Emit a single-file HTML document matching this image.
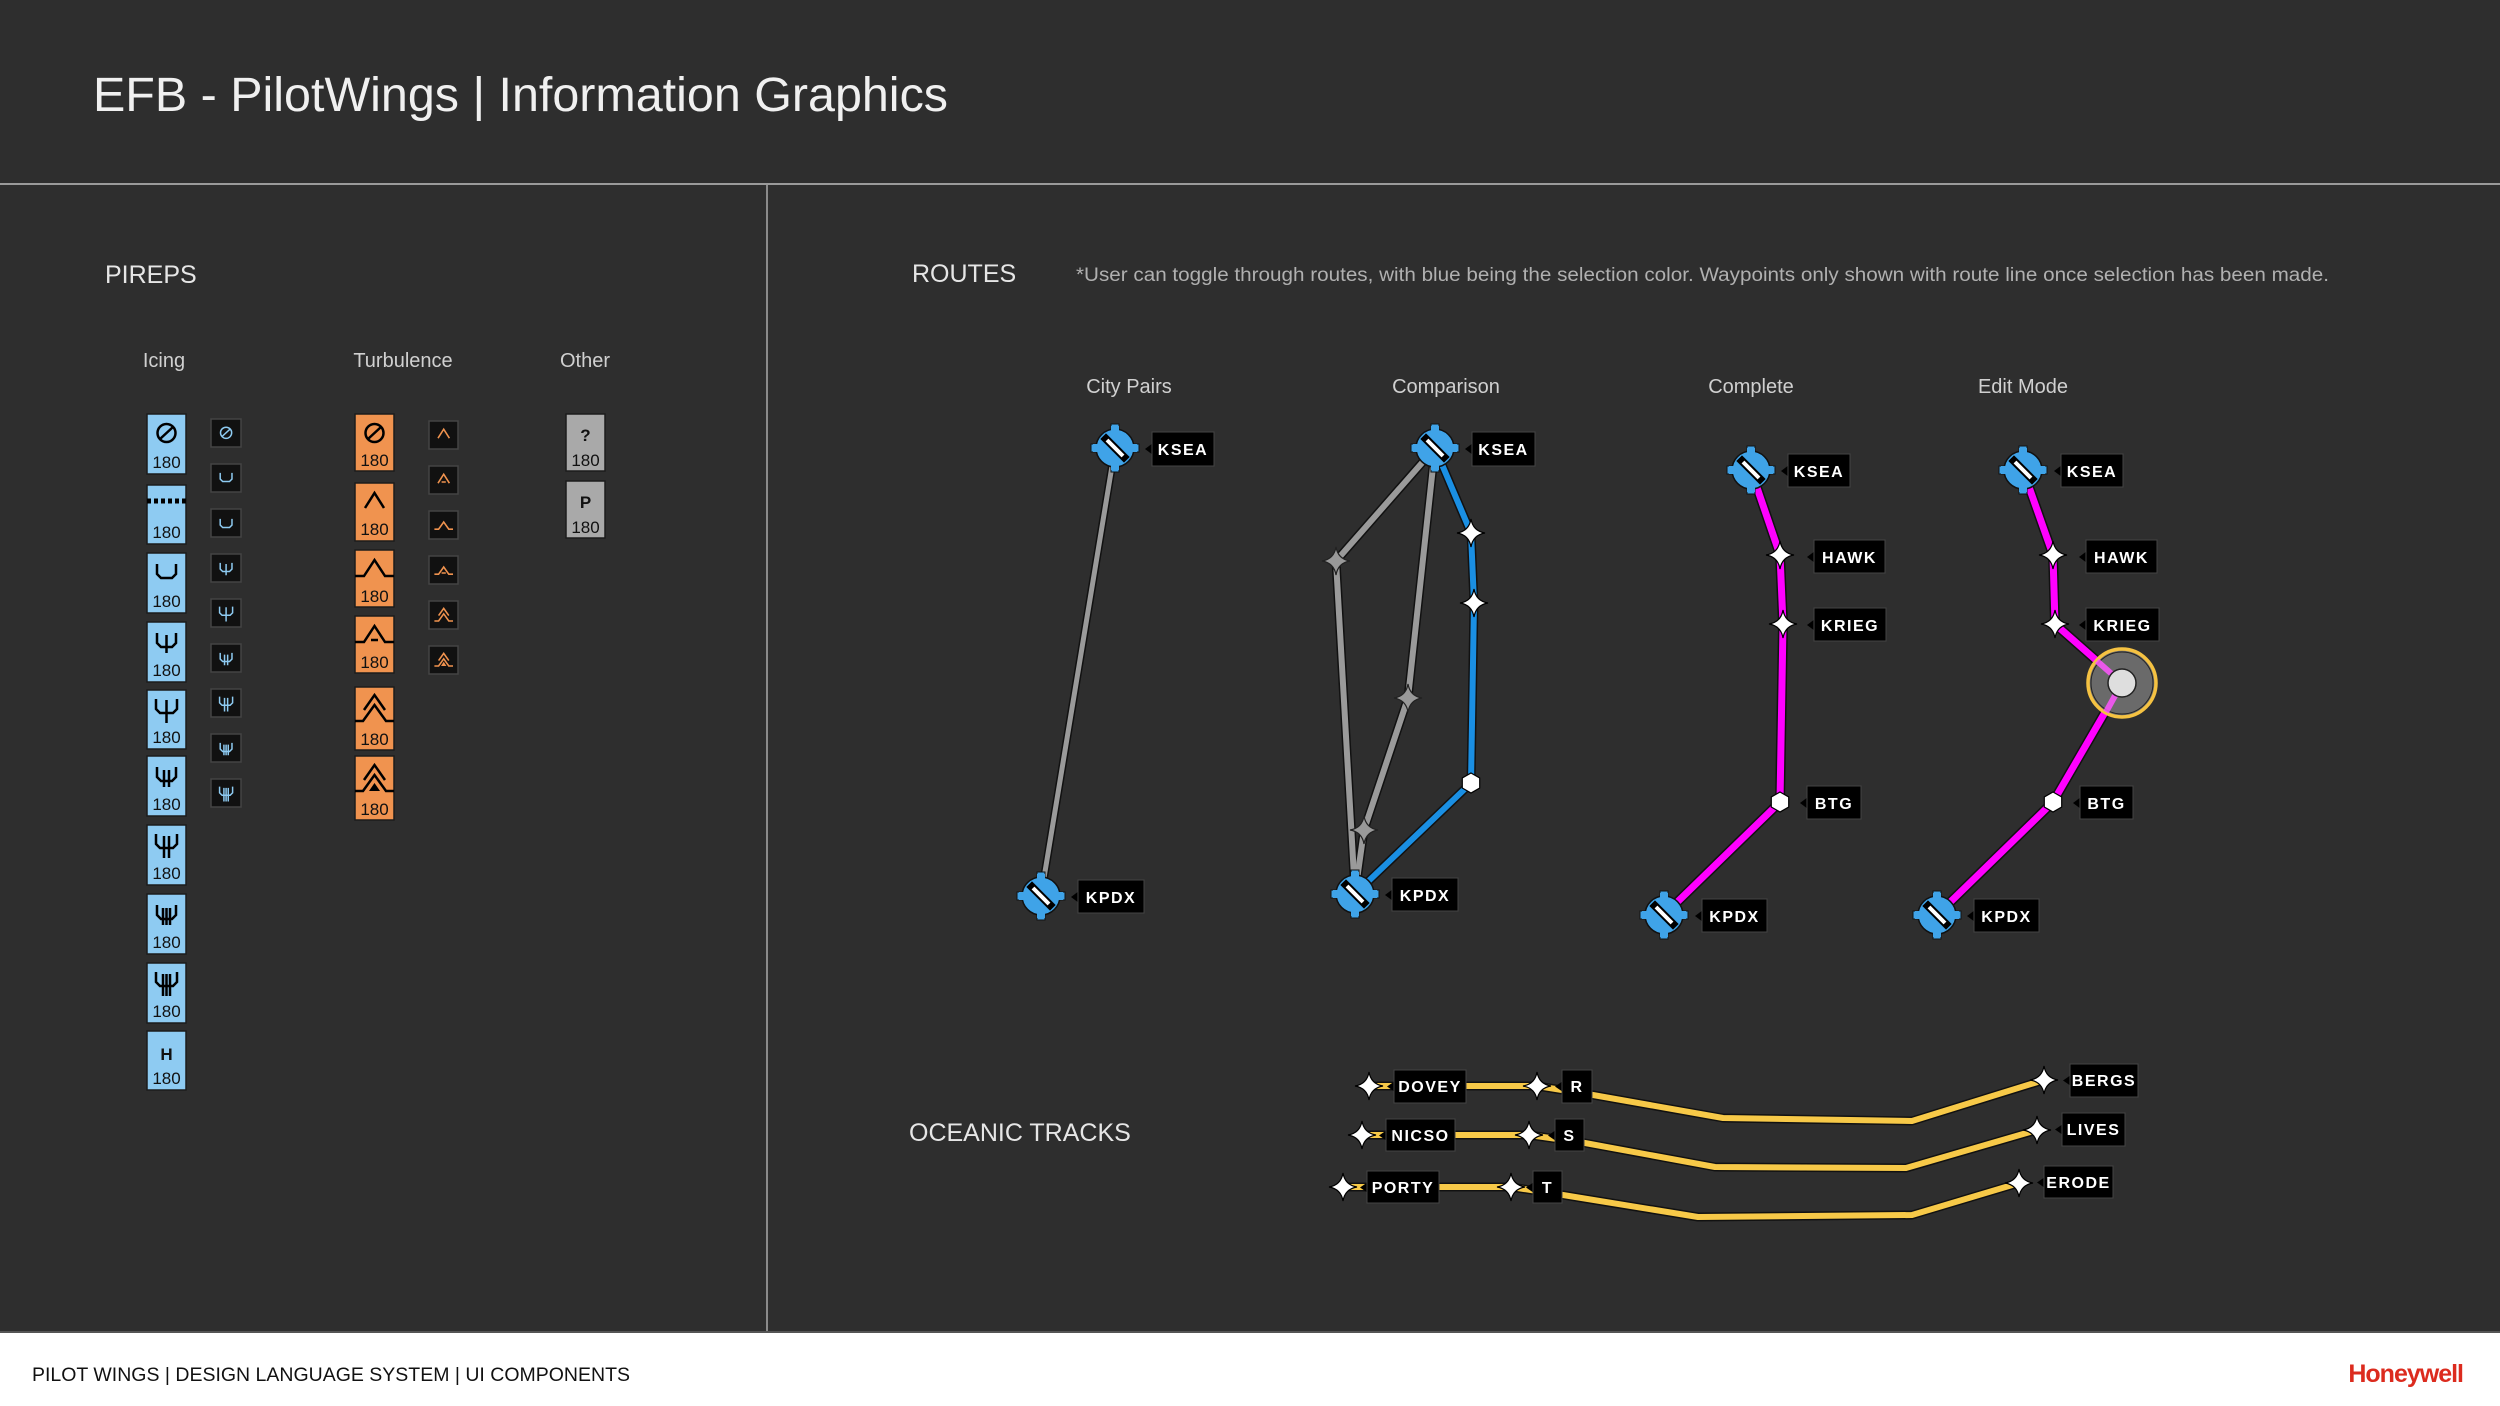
<!DOCTYPE html>
<html><head><meta charset="utf-8"><style>
html,body{margin:0;padding:0;background:#2e2e2e;}
svg{display:block;}
text{font-family:"Liberation Sans",sans-serif;}
.lb{font-size:16px;fill:#fff;letter-spacing:1.5px;text-anchor:middle;font-weight:bold;}
.sm{font-size:20px;fill:#d0d0d0;text-anchor:middle;}
.hd{font-size:25px;fill:#e6e6e6;}
.n{font-size:17px;fill:#111;text-anchor:middle;}
</style></head><body>
<svg width="2500" height="1406" viewBox="0 0 2500 1406" xmlns="http://www.w3.org/2000/svg">
<defs>
<g id="apt">
 <rect x="-4" y="-24" width="8" height="48" fill="#3fa3e8" stroke="#111" stroke-width="1"/>
 <rect x="-24" y="-4" width="48" height="8" fill="#3fa3e8" stroke="#111" stroke-width="1"/>
 <circle r="19" fill="#3fa3e8" stroke="#111" stroke-width="1.5"/>
 <rect x="-4" y="-22" width="8" height="44" fill="#3fa3e8"/>
 <rect x="-22" y="-4" width="44" height="8" fill="#3fa3e8"/>
 <line x1="-9" y1="-9" x2="9" y2="9" stroke="#000" stroke-width="8" stroke-linecap="square"/>
 <line x1="-8" y1="-8" x2="8" y2="8" stroke="#fff" stroke-width="4"/>
</g>
<path id="star" d="M0,-14 Q2,-2 14,0 Q2,2 0,14 Q-2,2 -14,0 Q-2,-2 0,-14Z" fill="#fff" stroke="#000" stroke-width="1.2"/>
<path id="gstar" d="M0,-14 Q2,-2 14,0 Q2,2 0,14 Q-2,2 -14,0 Q-2,-2 0,-14Z" fill="#999" stroke="#222" stroke-width="1.2"/>
<polygon id="hex" points="0,-10 8.7,-5 8.7,5 0,10 -8.7,5 -8.7,-5" fill="#fff" stroke="#000" stroke-width="1.2"/>
<g id="i_noc" fill="none"><circle cx="19.5" cy="19" r="9"/><line x1="13" y1="25" x2="26" y2="13"/></g>
<path id="i_cup" fill="none" d="M10,11 V21 L14,25 H25 L29,21 V11"/>
<path id="i_s1" fill="none" d="M10,11 V21 L14,25 H25 L29,21 V11 M19.5,13 V31"/>
<path id="i_s1l" fill="none" d="M9,9 V19 L13,23 H26 L30,19 V9 M19.5,10 V33"/>
<path id="i_s2" fill="none" d="M10,11 V21 L14,25 H25 L29,21 V11 M17,14 V31 M22,14 V31"/>
<path id="i_s2l" fill="none" d="M9,9 V19 L13,23 H26 L30,19 V9 M17,11 V33 M22,11 V33"/>
<path id="i_s3" fill="none" d="M10,11 V21 L14,25 H25 L29,21 V11 M16,14 V31 M19.5,14 V31 M23,14 V31"/>
<path id="i_s3l" fill="none" d="M9,9 V19 L13,23 H26 L30,19 V9 M16,11 V33 M19.5,11 V33 M23,11 V33"/>
<path id="i_t1" fill="none" d="M10,27 L19.5,12 L29,27"/>
<path id="i_t2" fill="none" d="M0,25 H9 L19.5,9 L30,25 H39"/>
<path id="i_t3" fill="none" d="M0,25 H9 L19.5,9 L30,25 H39 M16,23 H23"/>
<path id="i_t4" fill="none" d="M0,33 H8 L19.5,17 L31,33 H39 M9,22 L19.5,7 L30,22"/>
<g id="i_t5"><path fill="none" d="M0,33 H8 L19.5,17 L31,33 H39 M9,22 L19.5,7 L30,22"/><path d="M14,33 L19.5,25 L25,33Z" stroke="none" fill="#000"/></g>
<path id="i_s_t2" fill="none" d="M10,27 L19.5,12 L29,27 M16,25 H23"/>
<path id="i_s_t3" fill="none" d="M4,27 H11 L19.5,15 L28,27 H35"/>
<path id="i_s_t4" fill="none" d="M4,27 H11 L19.5,15 L28,27 H35 M16,25 H23"/>
<path id="i_s_t5" fill="none" d="M4,30 H11 L19.5,18 L28,30 H35 M11,21 L19.5,9 L28,21"/>
<g id="i_s_t6"><path fill="none" d="M4,30 H11 L19.5,18 L28,30 H35 M11,21 L19.5,9 L28,21"/><path d="M15,30 L19.5,23 L24,30Z" stroke="none" fill="#f0934f"/></g>
</defs>

<rect width="2500" height="1406" fill="#2e2e2e"/>
<text x="93" y="111" font-size="48" fill="#f0f0f0" textLength="855" lengthAdjust="spacingAndGlyphs">EFB - PilotWings | Information Graphics</text>
<rect x="0" y="183" width="2500" height="2" fill="#9a9a9a"/>
<rect x="766" y="185" width="2" height="1148" fill="#8a8a8a"/>

<text x="105" y="283" class="hd">PIREPS</text>
<text x="164" y="367" class="sm">Icing</text>
<text x="403" y="367" class="sm">Turbulence</text>
<text x="585" y="367" class="sm">Other</text>

<g stroke="#000" stroke-width="2.5">
<g transform="translate(147,414)"><rect width="39" height="60" fill="#8ecbf2" stroke="#1c1c1c" stroke-width="1.5"/><use href="#i_noc"/><text x="19.5" y="54" class="n" stroke="none">180</text></g>
<g transform="translate(147,485)"><rect width="39" height="59" fill="#8ecbf2" stroke="#1c1c1c" stroke-width="1.5"/><line x1="0" y1="16" x2="39" y2="16" stroke-width="5" stroke-dasharray="4 3"/><text x="19.5" y="53" class="n" stroke="none">180</text></g>
<g transform="translate(147,553)"><rect width="39" height="60" fill="#8ecbf2" stroke="#1c1c1c" stroke-width="1.5"/><use href="#i_cup"/><text x="19.5" y="54" class="n" stroke="none">180</text></g>
<g transform="translate(147,622)"><rect width="39" height="60" fill="#8ecbf2" stroke="#1c1c1c" stroke-width="1.5"/><use href="#i_s1"/><text x="19.5" y="54" class="n" stroke="none">180</text></g>
<g transform="translate(147,690)"><rect width="39" height="59" fill="#8ecbf2" stroke="#1c1c1c" stroke-width="1.5"/><use href="#i_s1l"/><text x="19.5" y="53" class="n" stroke="none">180</text></g>
<g transform="translate(147,756)"><rect width="39" height="60" fill="#8ecbf2" stroke="#1c1c1c" stroke-width="1.5"/><use href="#i_s2"/><text x="19.5" y="54" class="n" stroke="none">180</text></g>
<g transform="translate(147,825)"><rect width="39" height="60" fill="#8ecbf2" stroke="#1c1c1c" stroke-width="1.5"/><use href="#i_s2l"/><text x="19.5" y="54" class="n" stroke="none">180</text></g>
<g transform="translate(147,894)"><rect width="39" height="60" fill="#8ecbf2" stroke="#1c1c1c" stroke-width="1.5"/><use href="#i_s3"/><text x="19.5" y="54" class="n" stroke="none">180</text></g>
<g transform="translate(147,963)"><rect width="39" height="60" fill="#8ecbf2" stroke="#1c1c1c" stroke-width="1.5"/><use href="#i_s3l"/><text x="19.5" y="54" class="n" stroke="none">180</text></g>
<g transform="translate(147,1031)"><rect width="39" height="59" fill="#8ecbf2" stroke="#1c1c1c" stroke-width="1.5"/><text x="19.5" y="29" class="n" stroke="none" font-size="22" font-weight="bold">H</text><text x="19.5" y="53" class="n" stroke="none">180</text></g>
</g>

<g stroke="#8ecbf2" stroke-width="2.4">
<g transform="translate(211,419)"><rect width="30" height="28" fill="#111" stroke="#444" stroke-width="1.5"/><use href="#i_noc" transform="translate(3,2) scale(0.62)"/></g>
<g transform="translate(211,464)"><rect width="30" height="28" fill="#111" stroke="#444" stroke-width="1.5"/><use href="#i_cup" transform="translate(3,2) scale(0.62)"/></g>
<g transform="translate(211,509)"><rect width="30" height="28" fill="#111" stroke="#444" stroke-width="1.5"/><use href="#i_cup" transform="translate(3,3) scale(0.62)"/></g>
<g transform="translate(211,554)"><rect width="30" height="28" fill="#111" stroke="#444" stroke-width="1.5"/><use href="#i_s1" transform="translate(3,2) scale(0.62)"/></g>
<g transform="translate(211,599)"><rect width="30" height="28" fill="#111" stroke="#444" stroke-width="1.5"/><use href="#i_s1l" transform="translate(3,2) scale(0.62)"/></g>
<g transform="translate(211,644)"><rect width="30" height="28" fill="#111" stroke="#444" stroke-width="1.5"/><use href="#i_s2" transform="translate(3,2) scale(0.62)"/></g>
<g transform="translate(211,689)"><rect width="30" height="28" fill="#111" stroke="#444" stroke-width="1.5"/><use href="#i_s2l" transform="translate(3,2) scale(0.62)"/></g>
<g transform="translate(211,734)"><rect width="30" height="28" fill="#111" stroke="#444" stroke-width="1.5"/><use href="#i_s3" transform="translate(3,2) scale(0.62)"/></g>
<g transform="translate(211,779)"><rect width="30" height="28" fill="#111" stroke="#444" stroke-width="1.5"/><use href="#i_s3l" transform="translate(3,2) scale(0.62)"/></g>
</g>

<g stroke="#000" stroke-width="2.5">
<g transform="translate(355,414)"><rect width="39" height="57" fill="#f0934f" stroke="#1c1c1c" stroke-width="1.5"/><use href="#i_noc"/><text x="19.5" y="52" class="n" stroke="none">180</text></g>
<g transform="translate(355,483)"><rect width="39" height="58" fill="#f0934f" stroke="#1c1c1c" stroke-width="1.5"/><use href="#i_t1" transform="translate(0,-2)"/><text x="19.5" y="52" class="n" stroke="none">180</text></g>
<g transform="translate(355,550)"><rect width="39" height="57" fill="#f0934f" stroke="#1c1c1c" stroke-width="1.5"/><use href="#i_t2" transform="translate(0,1)"/><text x="19.5" y="52" class="n" stroke="none">180</text></g>
<g transform="translate(355,616)"><rect width="39" height="57" fill="#f0934f" stroke="#1c1c1c" stroke-width="1.5"/><use href="#i_t3" transform="translate(0,1)"/><text x="19.5" y="52" class="n" stroke="none">180</text></g>
<g transform="translate(355,687)"><rect width="39" height="63" fill="#f0934f" stroke="#1c1c1c" stroke-width="1.5"/><use href="#i_t4" transform="translate(0,1)"/><text x="19.5" y="58" class="n" stroke="none">180</text></g>
<g transform="translate(355,756)"><rect width="39" height="64" fill="#f0934f" stroke="#1c1c1c" stroke-width="1.5"/><use href="#i_t5" transform="translate(0,2)"/><text x="19.5" y="59" class="n" stroke="none">180</text></g>
</g>
<g stroke="#f0934f" stroke-width="2.6">
<g transform="translate(429,421)"><rect width="29" height="28" fill="#111" stroke="#444" stroke-width="1.5"/><use href="#i_t1" transform="translate(3,1) scale(0.6)"/></g>
<g transform="translate(429,466)"><rect width="29" height="28" fill="#111" stroke="#444" stroke-width="1.5"/><use href="#i_s_t2" transform="translate(3,1) scale(0.6)"/></g>
<g transform="translate(429,511)"><rect width="29" height="28" fill="#111" stroke="#444" stroke-width="1.5"/><use href="#i_s_t3" transform="translate(3,2) scale(0.6)"/></g>
<g transform="translate(429,556)"><rect width="29" height="28" fill="#111" stroke="#444" stroke-width="1.5"/><use href="#i_s_t4" transform="translate(3,2) scale(0.6)"/></g>
<g transform="translate(429,601)"><rect width="29" height="28" fill="#111" stroke="#444" stroke-width="1.5"/><use href="#i_s_t5" transform="translate(3,2) scale(0.6)"/></g>
<g transform="translate(429,646)"><rect width="29" height="28" fill="#111" stroke="#444" stroke-width="1.5"/><use href="#i_s_t6" transform="translate(3,2) scale(0.6)"/></g>
</g>

<g transform="translate(566,414)"><rect width="39" height="57" fill="#a9a9a9" stroke="#1c1c1c" stroke-width="1.5"/><text x="19.5" y="27" class="n" font-size="22" font-weight="bold">?</text><text x="19.5" y="52" class="n">180</text></g>
<g transform="translate(566,481)"><rect width="39" height="57" fill="#a9a9a9" stroke="#1c1c1c" stroke-width="1.5"/><text x="19.5" y="27" class="n" font-size="22" font-weight="bold">P</text><text x="19.5" y="52" class="n">180</text></g>

<text x="912" y="282" class="hd">ROUTES</text>
<text x="1076" y="281" font-size="19" fill="#b0b0b0" textLength="1253" lengthAdjust="spacingAndGlyphs">*User can toggle through routes, with blue being the selection color. Waypoints only shown with route line once selection has been made.</text>
<text x="1129" y="393" class="sm">City Pairs</text>
<text x="1446" y="393" class="sm">Comparison</text>
<text x="1751" y="393" class="sm">Complete</text>
<text x="2023" y="393" class="sm">Edit Mode</text>

<g fill="none" stroke-linejoin="round">
<polyline points="1115,448 1041,896" stroke="#111" stroke-width="8"/>
<polyline points="1115,448 1041,896" stroke="#9a9a9a" stroke-width="5"/>
<polyline points="1435,448 1336,561 1355,894" stroke="#111" stroke-width="9"/>
<polyline points="1435,448 1408,698 1364,830 1355,894" stroke="#111" stroke-width="9"/>
<polyline points="1435,448 1336,561 1355,894" stroke="#9a9a9a" stroke-width="6"/>
<polyline points="1435,448 1408,698 1364,830 1355,894" stroke="#9a9a9a" stroke-width="6"/>
<polyline points="1435,448 1471,533 1474,603 1471,783 1355,894" stroke="#111" stroke-width="9"/>
<polyline points="1435,448 1471,533 1474,603 1471,783 1355,894" stroke="#1a8fe3" stroke-width="6"/>
<polyline points="1751,470 1780,555 1783,624 1780,802 1664,915" stroke="#111" stroke-width="10"/>
<polyline points="1751,470 1780,555 1783,624 1780,802 1664,915" stroke="#ff00ff" stroke-width="7"/>
<polyline points="2023,470 2053,555 2055,624 2122,683 2053,802 1937,915" stroke="#111" stroke-width="10"/>
<polyline points="2023,470 2053,555 2055,624 2122,683 2053,802 1937,915" stroke="#ff00ff" stroke-width="7"/>
</g>
<circle cx="2122" cy="683" r="34" fill="#6a6a6a" stroke="#f5c242" stroke-width="3.5"/>
<circle cx="2122" cy="683" r="31" fill="none" stroke="#222" stroke-width="1"/>
<polyline points="2097,661 2122,683 2106,712" fill="none" stroke="#ff55ff" stroke-width="6" opacity="0.85"/>
<circle cx="2122" cy="683" r="14" fill="#dedede" stroke="#222" stroke-width="1.5"/>

<use href="#gstar" x="1336" y="561"/>
<use href="#gstar" x="1408" y="698"/>
<use href="#gstar" x="1364" y="830"/>
<use href="#star" x="1471" y="533"/>
<use href="#star" x="1474" y="603"/>
<use href="#hex" x="1471" y="783"/>
<use href="#star" x="1780" y="555"/>
<use href="#star" x="1783" y="624"/>
<use href="#hex" x="1780" y="802"/>
<use href="#star" x="2053" y="555"/>
<use href="#star" x="2055" y="624"/>
<use href="#hex" x="2053" y="802"/>

<use href="#apt" x="1115" y="448"/>
<use href="#apt" x="1041" y="896"/>
<use href="#apt" x="1435" y="448"/>
<use href="#apt" x="1355" y="894"/>
<use href="#apt" x="1751" y="470"/>
<use href="#apt" x="1664" y="915"/>
<use href="#apt" x="2023" y="470"/>
<use href="#apt" x="1937" y="915"/>

<g>
<g transform="translate(1152,432)"><polygon points="1,11 -7,17 1,23" fill="#000"/><rect width="62" height="34" fill="#000" stroke="#444"/><text x="31" y="23" class="lb">KSEA</text></g>
<g transform="translate(1078,880)"><polygon points="1,11 -7,17 1,23" fill="#000"/><rect width="66" height="33" fill="#000" stroke="#444"/><text x="33" y="23" class="lb">KPDX</text></g>
<g transform="translate(1472,432)"><polygon points="1,11 -7,17 1,23" fill="#000"/><rect width="63" height="34" fill="#000" stroke="#444"/><text x="31.5" y="23" class="lb">KSEA</text></g>
<g transform="translate(1392,878)"><polygon points="1,11 -7,17 1,23" fill="#000"/><rect width="66" height="33" fill="#000" stroke="#444"/><text x="33" y="23" class="lb">KPDX</text></g>

<g transform="translate(1788,454)"><polygon points="1,11 -7,17 1,23" fill="#000"/><rect width="62" height="33" fill="#000" stroke="#444"/><text x="31" y="23" class="lb">KSEA</text></g>
<g transform="translate(1814,540)"><polygon points="1,11 -7,17 1,23" fill="#000"/><rect width="71" height="33" fill="#000" stroke="#444"/><text x="35.5" y="23" class="lb">HAWK</text></g>
<g transform="translate(1814,608)"><polygon points="1,11 -7,17 1,23" fill="#000"/><rect width="72" height="33" fill="#000" stroke="#444"/><text x="36" y="23" class="lb">KRIEG</text></g>
<g transform="translate(1807,786)"><polygon points="1,11 -7,17 1,23" fill="#000"/><rect width="54" height="33" fill="#000" stroke="#444"/><text x="27" y="23" class="lb">BTG</text></g>
<g transform="translate(1702,899)"><polygon points="1,11 -7,17 1,23" fill="#000"/><rect width="65" height="33" fill="#000" stroke="#444"/><text x="32.5" y="23" class="lb">KPDX</text></g>

<g transform="translate(2061,454)"><polygon points="1,11 -7,17 1,23" fill="#000"/><rect width="62" height="33" fill="#000" stroke="#444"/><text x="31" y="23" class="lb">KSEA</text></g>
<g transform="translate(2086,540)"><polygon points="1,11 -7,17 1,23" fill="#000"/><rect width="71" height="33" fill="#000" stroke="#444"/><text x="35.5" y="23" class="lb">HAWK</text></g>
<g transform="translate(2086,608)"><polygon points="1,11 -7,17 1,23" fill="#000"/><rect width="73" height="33" fill="#000" stroke="#444"/><text x="36.5" y="23" class="lb">KRIEG</text></g>
<g transform="translate(2080,786)"><polygon points="1,11 -7,17 1,23" fill="#000"/><rect width="53" height="33" fill="#000" stroke="#444"/><text x="26.5" y="23" class="lb">BTG</text></g>
<g transform="translate(1974,899)"><polygon points="1,11 -7,17 1,23" fill="#000"/><rect width="65" height="33" fill="#000" stroke="#444"/><text x="32.5" y="23" class="lb">KPDX</text></g>
</g>

<text x="909" y="1141" class="hd">OCEANIC TRACKS</text>
<g fill="none" stroke-linejoin="round">
<polyline points="1369,1086 1537,1086 1593,1095 1723,1118 1912,1121 2044,1080" stroke="#111" stroke-width="9"/>
<polyline points="1369,1086 1537,1086 1593,1095 1723,1118 1912,1121 2044,1080" stroke="#f7c948" stroke-width="6"/>
<polyline points="1362,1135 1529,1135 1585,1143 1715,1167 1906,1168 2037,1130" stroke="#111" stroke-width="9"/>
<polyline points="1362,1135 1529,1135 1585,1143 1715,1167 1906,1168 2037,1130" stroke="#f7c948" stroke-width="6"/>
<polyline points="1343,1187 1511,1187 1563,1195 1698,1217 1912,1215 2019,1183" stroke="#111" stroke-width="9"/>
<polyline points="1343,1187 1511,1187 1563,1195 1698,1217 1912,1215 2019,1183" stroke="#f7c948" stroke-width="6"/>
</g>
<g transform="translate(1394,1070)"><polygon points="1,11 -7,16.5 1,22" fill="#000"/><rect width="72" height="33" fill="#000" stroke="#444"/><text x="36" y="22" class="lb">DOVEY</text></g>
<g transform="translate(1562,1070)"><polygon points="1,11 -7,16.5 1,22" fill="#000"/><rect width="30" height="33" fill="#000" stroke="#444"/><text x="15" y="22" class="lb">R</text></g>
<g transform="translate(2070,1064)"><polygon points="1,11 -7,16.5 1,22" fill="#000"/><rect width="68" height="33" fill="#000" stroke="#444"/><text x="34" y="22" class="lb">BERGS</text></g>
<g transform="translate(1386,1119)"><polygon points="1,11 -7,16.5 1,22" fill="#000"/><rect width="69" height="32" fill="#000" stroke="#444"/><text x="34.5" y="22" class="lb">NICSO</text></g>
<g transform="translate(1555,1119)"><polygon points="1,11 -7,16.5 1,22" fill="#000"/><rect width="29" height="32" fill="#000" stroke="#444"/><text x="14.5" y="22" class="lb">S</text></g>
<g transform="translate(2062,1113)"><polygon points="1,11 -7,16.5 1,22" fill="#000"/><rect width="63" height="33" fill="#000" stroke="#444"/><text x="31.5" y="22" class="lb">LIVES</text></g>
<g transform="translate(1367,1171)"><polygon points="1,11 -7,16.5 1,22" fill="#000"/><rect width="72" height="32" fill="#000" stroke="#444"/><text x="36" y="22" class="lb">PORTY</text></g>
<g transform="translate(1533,1171)"><polygon points="1,11 -7,16.5 1,22" fill="#000"/><rect width="29" height="32" fill="#000" stroke="#444"/><text x="14.5" y="22" class="lb">T</text></g>
<g transform="translate(2044,1166)"><polygon points="1,11 -7,16.5 1,22" fill="#000"/><rect width="69" height="32" fill="#000" stroke="#444"/><text x="34.5" y="22" class="lb">ERODE</text></g>
<use href="#star" x="1369" y="1086"/><use href="#star" x="1537" y="1086"/><use href="#star" x="2044" y="1080"/>
<use href="#star" x="1362" y="1135"/><use href="#star" x="1529" y="1135"/><use href="#star" x="2037" y="1130"/>
<use href="#star" x="1343" y="1187"/><use href="#star" x="1511" y="1187"/><use href="#star" x="2019" y="1183"/>

<rect x="0" y="1333" width="2500" height="73" fill="#ffffff"/>
<rect x="0" y="1331" width="2500" height="2" fill="#555"/>
<text x="32" y="1381" font-size="19" fill="#111" textLength="598" lengthAdjust="spacingAndGlyphs">PILOT WINGS | DESIGN LANGUAGE SYSTEM | UI COMPONENTS</text>
<text x="2463" y="1382" font-size="25" font-weight="bold" fill="#dc2b1e" text-anchor="end" letter-spacing="-1">Honeywell</text>
</svg>
</body></html>
